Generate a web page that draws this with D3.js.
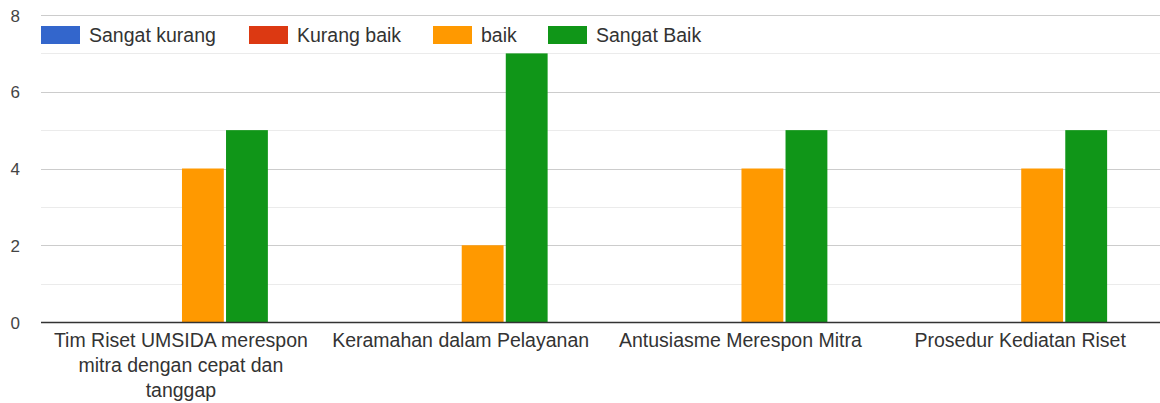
<!DOCTYPE html>
<html>
<head>
<meta charset="utf-8">
<script src="https://cdn.jsdelivr.net/npm/d3@7"></script>
<style>
  body { margin: 0; background: #fff; }
  svg { display: block; font-family: Arial, "Liberation Sans", sans-serif; }
</style>
</head>
<body>
<svg id="chart" width="1160" height="403"></svg>
<script>
// ---------------- data ----------------
const categories = [
    ["Tim Riset UMSIDA merespon", "mitra dengan cepat dan", "tanggap"],
    ["Keramahan dalam Pelayanan"],
    ["Antusiasme Merespon Mitra"],
    ["Prosedur Kediatan Riset"]
];
const seriesNames = ["Sangat kurang", "Kurang baik", "baik", "Sangat Baik"];
const sangatKurang = [0, 0, 0, 0];
const kurangBaik = [0, 0, 0, 0];
const baik = [4, 2, 4, 4];
const sangatBaik = [5, 7, 5, 5];
const yTicks = [0, 2, 4, 6, 8];

const colours = ["#3366cc", "#dc3912", "#ff9900", "#109618"];
const seriesValues = [sangatKurang, kurangBaik, baik, sangatBaik];

// ---------------- layout ----------------
const plotLeft = 41, plotRight = 1160, plotTop = 15, plotBottom = 322;

const svg = d3.select("#chart");

const x = d3.scaleBand()
    .domain(d3.range(categories.length))
    .range([plotLeft, plotRight]);

const xInner = d3.scaleBand()
    .domain(d3.range(seriesNames.length))
    .range([0, 174])
    .paddingInner(0.05);

const y = d3.scaleLinear()
    .domain([0, 8])
    .range([plotBottom, plotTop]);

// minor gridlines
svg.append("g")
    .selectAll("line")
    .data([1, 3, 5, 7])
    .enter()
    .append("line")
    .attr("x1", plotLeft)
    .attr("x2", plotRight)
    .attr("y1", d => Math.round(y(d)) + 0.5)
    .attr("y2", d => Math.round(y(d)) + 0.5)
    .attr("stroke", "#ebebeb")
    .attr("stroke-width", 1);

// major gridlines
svg.append("g")
    .selectAll("line")
    .data(yTicks.filter(d => d > 0))
    .enter()
    .append("line")
    .attr("x1", plotLeft)
    .attr("x2", plotRight)
    .attr("y1", d => Math.round(y(d)) + 0.5)
    .attr("y2", d => Math.round(y(d)) + 0.5)
    .attr("stroke", "#cccccc")
    .attr("stroke-width", 1);

// y tick labels
svg.append("g")
    .selectAll("text")
    .data(yTicks)
    .enter()
    .append("text")
    .attr("x", 20)
    .attr("y", d => y(d) + 6.5)
    .attr("text-anchor", "end")
    .attr("font-size", 17)
    .attr("fill", "#444")
    .text(d => d);

// bars
const groups = svg.append("g")
    .selectAll("g")
    .data(categories)
    .enter()
    .append("g")
    .attr("transform", (d, i) => "translate(" + (x(i) + x.bandwidth() / 2 - 87) + ",0)");

groups.selectAll("rect")
    .data((d, i) => seriesValues.map((s, k) => ({ k: k, v: s[i] })))
    .enter()
    .append("rect")
    .attr("x", d => xInner(d.k))
    .attr("width", xInner.bandwidth())
    .attr("y", d => y(d.v))
    .attr("height", d => y(0) - y(d.v))
    .attr("fill", d => colours[d.k]);

// baseline
svg.append("line")
    .attr("x1", plotLeft)
    .attr("x2", plotRight)
    .attr("y1", y(0) + 0.5)
    .attr("y2", y(0) + 0.5)
    .attr("stroke", "#333")
    .attr("stroke-width", 1.5);

// x labels
const labels = svg.append("g")
    .selectAll("text")
    .data(categories)
    .enter()
    .append("text")
    .attr("text-anchor", "middle")
    .attr("font-size", 19.5)
    .attr("fill", "#333");
labels.selectAll("tspan")
    .data((d, i) => d.map(line => ({ line: line, i: i })))
    .enter()
    .append("tspan")
    .attr("x", d => x(d.i) + x.bandwidth() / 2)
    .attr("y", (d, j) => 347 + j * 25)
    .text(d => d.line);

// legend
const legendX = [41, 249, 433, 548];
const legend = svg.append("g")
    .selectAll("g")
    .data(seriesNames)
    .enter()
    .append("g")
    .attr("transform", (d, i) => "translate(" + legendX[i] + ",26)");
legend.append("rect")
    .attr("width", 39)
    .attr("height", 18)
    .attr("fill", (d, i) => colours[i]);
legend.append("text")
    .attr("x", 48)
    .attr("y", 16)
    .attr("font-size", 19.5)
    .attr("fill", "#333")
    .text(d => d);
</script>
</body>
</html>
